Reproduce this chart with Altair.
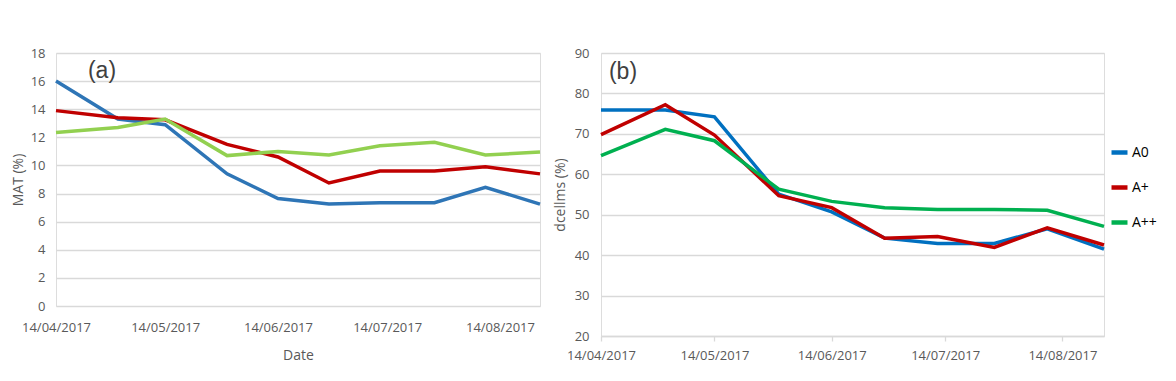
import altair as alt
import pandas as pd

dates = ["2017-04-14", "2017-05-01", "2017-05-14", "2017-05-31", "2017-06-14",
         "2017-06-28", "2017-07-12", "2017-07-27", "2017-08-10", "2017-08-25"]
series = ["A0", "A+", "A++"]

mat_a0 = [16.0, 13.3, 12.9, 9.4, 7.65, 7.25, 7.35, 7.35, 8.45, 7.25]
mat_ap = [13.9, 13.4, 13.25, 11.5, 10.6, 8.75, 9.6, 9.6, 9.9, 9.4]
mat_app = [12.35, 12.7, 13.3, 10.7, 11.0, 10.75, 11.4, 11.65, 10.75, 10.95]

dc_a0 = [75.9, 75.9, 74.2, 55.1, 50.7, 44.2, 42.9, 42.9, 46.5, 41.5]
dc_ap = [69.8, 77.2, 69.7, 54.7, 51.75, 44.2, 44.6, 41.9, 46.75, 42.5]
dc_app = [64.6, 71.1, 68.3, 56.3, 53.3, 51.75, 51.3, 51.3, 51.1, 47.1]

colors_a = ["#2E75B6", "#C00000", "#92D050"]
colors_b = ["#0070C0", "#C00000", "#00B050"]

tick_dates = ["2017-04-14", "2017-05-14", "2017-06-14", "2017-07-14", "2017-08-14"]


def long(vals_list):
    rows = []
    for s, vals in zip(series, vals_list):
        for d, v in zip(dates, vals):
            rows.append({"date": d + "T00:00:00", "Series": s, "value": v})
    return pd.DataFrame(rows)


df_a = long([mat_a0, mat_ap, mat_app])
df_b = long([dc_a0, dc_ap, dc_app])


def dt(s):
    y, m, d = s.split("-")
    return alt.DateTime(year=int(y), month=int(m), date=int(d))


x_domain = [dt(dates[0]), dt(dates[-1])]
tick_vals = [dt(t) for t in tick_dates]

FONT = "Open Sans"
GRAY = "#595959"
GRID = "#d9d9d9"

# Panel (a)
x_a = alt.X("date:T", scale=alt.Scale(domain=x_domain),
            axis=alt.Axis(values=tick_vals, format="%d/%m/%Y", title="Date",
                          grid=False, domain=False, ticks=False, labelPadding=15,
                          labelAlign="center", labelFlush=False,
                          titlePadding=14, labelFontSize=13, titleFontSize=14,
                          labelColor=GRAY, titleColor=GRAY, titleFontWeight="normal",
                          labelFont=FONT, titleFont=FONT))
y_a = alt.Y("value:Q", scale=alt.Scale(domain=[0, 18]),
            axis=alt.Axis(values=list(range(0, 19, 2)), title="MAT (%)", grid=True,
                          gridColor=GRID, gridWidth=1.3, domain=False, ticks=False,
                          tickSize=0, labelPadding=11, titlePadding=5,
                          labelFontSize=13, titleFontSize=14, labelColor=GRAY,
                          titleColor=GRAY, titleFontWeight="normal",
                          labelFont=FONT, titleFont=FONT))

lines_a = alt.Chart(df_a).mark_line(strokeWidth=3.5).encode(
    x=x_a, y=y_a,
    color=alt.Color("Series:N", scale=alt.Scale(domain=series, range=colors_a), legend=None),
    detail="Series:N",
)
label_a = alt.Chart(pd.DataFrame({"t": ["(a)"]})).mark_text(
    fontSize=23, font="Liberation Sans", color="#404040", align="center", baseline="middle"
).encode(text="t:N", x=alt.value(46), y=alt.value(18))

left = alt.layer(lines_a, label_a).properties(width=484, height=253)

# Panel (b)
x_b = alt.X("date:T", scale=alt.Scale(domain=x_domain),
            axis=alt.Axis(values=tick_vals, format="%d/%m/%Y", title=None,
                          grid=False, domain=True, domainColor=GRID, domainWidth=1.3,
                          ticks=True, tickColor=GRID, tickSize=5, tickWidth=1.3,
                          labelAlign="center", labelFlush=False,
                          labelPadding=8, labelFontSize=13, labelColor=GRAY,
                          labelFont=FONT))
y_b = alt.Y("value:Q", scale=alt.Scale(domain=[20, 90]),
            axis=alt.Axis(values=list(range(20, 91, 10)), title="dcellms (%)", grid=True,
                          gridColor=GRID, gridWidth=1.3, domain=False, ticks=False,
                          tickSize=0, labelPadding=12, titlePadding=7,
                          labelFontSize=13, titleFontSize=14, labelColor=GRAY,
                          titleColor=GRAY, titleFontWeight="normal",
                          labelFont=FONT, titleFont=FONT))

lines_b = alt.Chart(df_b).mark_line(strokeWidth=3.5).encode(
    x=x_b, y=y_b,
    color=alt.Color("Series:N", scale=alt.Scale(domain=series, range=colors_b),
                    legend=alt.Legend(title=None, orient="none", legendX=508, legendY=89,
                                      symbolType="stroke", symbolSize=256,
                                      symbolStrokeWidth=4.5, labelFontSize=14,
                                      labelColor="#000000", labelFont=FONT,
                                      rowPadding=15, labelOffset=2)),
    detail="Series:N",
)
label_b = alt.Chart(pd.DataFrame({"t": ["(b)"]})).mark_text(
    fontSize=23, font="Liberation Sans", color="#404040", align="center", baseline="middle"
).encode(text="t:N", x=alt.value(22), y=alt.value(19))

right = alt.layer(lines_b, label_b).properties(width=503, height=283)

chart = alt.hconcat(left, right, spacing=4).resolve_scale(
    color="independent"
).properties(
    padding={"left": 2, "top": 38, "right": 0, "bottom": 0}
).configure_view(stroke=None).configure(background="white")

chart.save("out.html", embed_options={"renderer": "svg", "actions": False})
